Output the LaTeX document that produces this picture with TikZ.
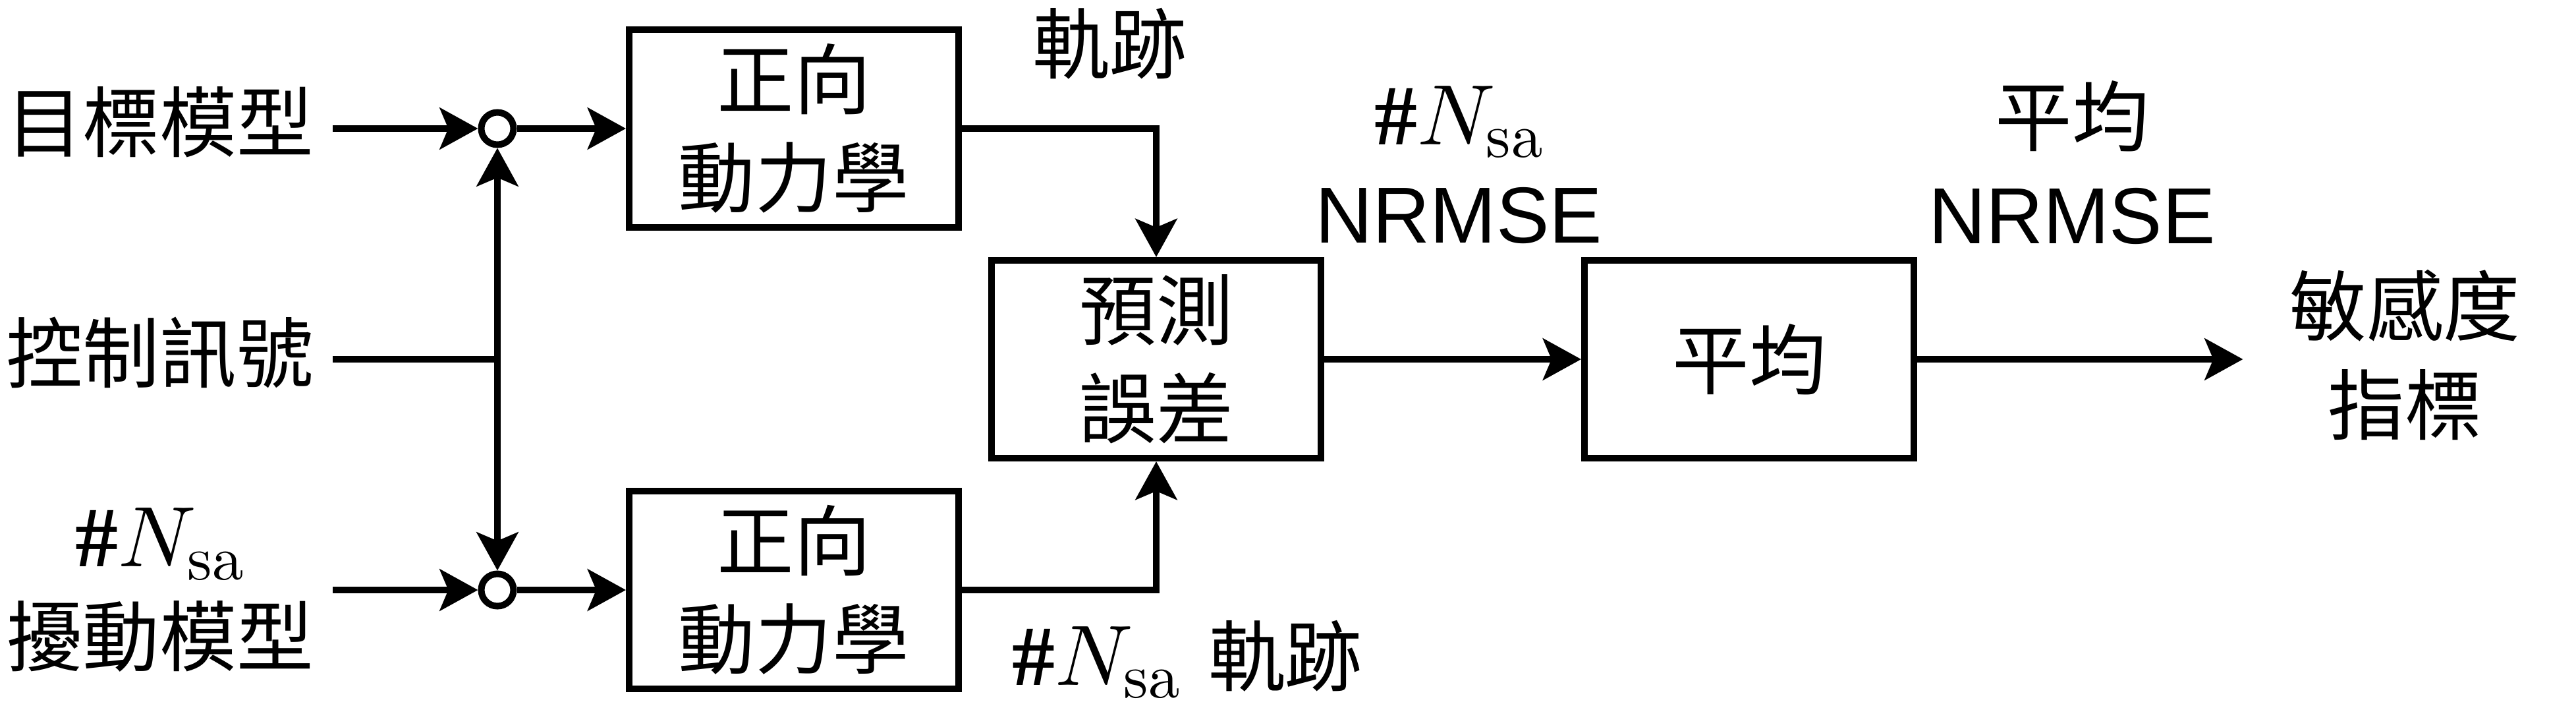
\RequirePackage{fix-cm}
\documentclass[tikz,border=0pt]{standalone}
\usepackage[no-math]{fontspec}
\setmainfont{Liberation Sans}
\newfontfamily\cjk{Noto Sans CJK TC}
\newfontfamily\hashfont{Liberation Serif}[BoldFont={* Bold}]
\usepackage{tikz}
\usetikzlibrary{arrows.meta, positioning}

\DeclareFontShape{OML}{cmm}{m}{it}{<->cmmi10}{}
\DeclareFontShape{OT1}{cmr}{m}{n}{<->cmr10}{}
\DeclareMathSizes{37}{37}{27}{20}

\newcommand{\Nsa}{{\fontsize{37}{42.4}\selectfont{\hashfont\bfseries\#}$N_{\mathrm{sa}}$}}
\newcommand{\nrmse}{{\rmfamily\fontsize{34.3}{42.4}\selectfont NRMSE}}

\begin{document}
\begin{tikzpicture}[
      line width=0.1cm,
      block/.style={rectangle, draw, minimum width=5cm, minimum height=3cm, align=center, font={\fontsize{33.2}{42.4}\selectfont\cjk}},
      sumdot/.style={circle, draw, fill=white, inner sep=0pt, minimum size=0.49cm},
      lbl/.style={align=center, inner sep=0pt, outer sep=0pt, font={\fontsize{33.2}{42.4}\selectfont\cjk}},
      inlbl/.style={lbl, inner xsep=0.29cm},
      arrow/.style={-{Stealth[length=0.58cm, width=0.63cm, inset=0.13cm]}},
      biarrow/.style={{Stealth[length=0.58cm, width=0.63cm, inset=0.13cm]}-{Stealth[length=0.58cm, width=0.63cm, inset=0.13cm]}}
      ]
      \useasboundingbox (0,0) rectangle (39.1,-10.7);

      % Summing points
      \node[sumdot] (sumA) at (7.55,-1.95) {};
      \node[sumdot] (sumB) at (7.55,-8.95) {};
      \coordinate (jn) at (7.55,-5.45);

      % Inputs
      \node[inlbl, left=2.205cm of sumA, yshift=0.1cm] (target) {目標模型};
      \node[lbl, inner xsep=0.29cm, left=2.5cm of jn, yshift=0.1cm] (ctrl) {控制訊號};
      \node[inlbl, left=2.205cm of sumB] (pert) {\Nsa\\擾動模型};

      % Forward dynamics
      \node[block, right=1.655cm of sumA] (fdA) {正向\\動力學};
      \node[block, right=1.655cm of sumB] (fdB) {正向\\動力學};

      % Prediction error and average
      \node[block] (pred) at (17.55,-5.45) {預測\\誤差};
      \node[block, right=3.9cm of pred] (avg) {平均};

      % Labels
      \node[lbl] (trajA) at (16.84,-0.665) {軌跡};
      \node[lbl, anchor=base west] (trajB) at (15.36,-10.39) {\Nsa\hspace{0.42cm}軌跡};
      \node[lbl] (errN) at (22.145,-2.50) {\Nsa\\\nrmse};
      \node[lbl] (avgN) at (31.45,-2.465) {平均\\\nrmse};
      \node[lbl] (sens) at (36.505,-5.385) {敏感度\\指標};

      % Arrows - inputs
      \draw[arrow] (target.east |- sumA) -- (sumA);
      \draw[arrow] (pert.east |- sumB) -- (sumB);
      \draw (ctrl.east |- jn) -- (jn);
      \draw[biarrow] (sumB) -- (sumA);
      \draw[arrow] (sumA) -- (fdA);
      \draw[arrow] (sumB) -- (fdB);

      % Arrows - trajectories to error
      \draw[arrow] (fdA.east) -| (pred.north);
      \draw[arrow] (fdB.east) -| (pred.south);

      % Arrows - output
      \draw[arrow] (pred) -- (avg);
      \draw[arrow] (avg) -- ([xshift=-0.71cm]sens.west |- avg);

   \end{tikzpicture}
\end{document}
